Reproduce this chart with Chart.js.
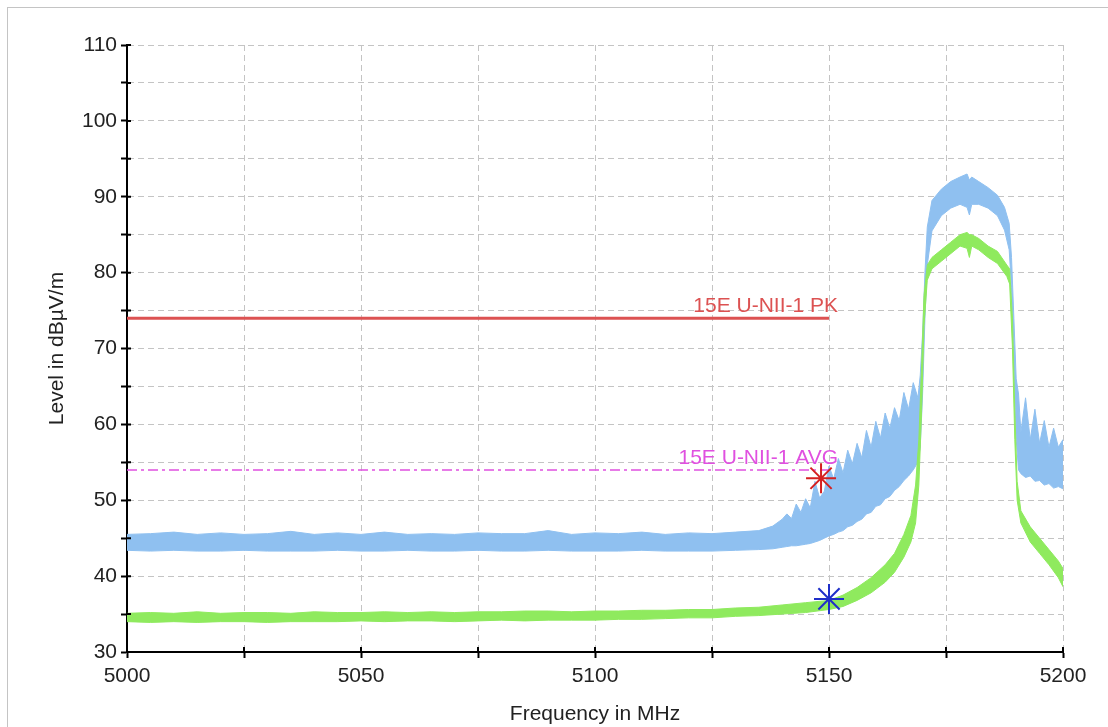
<!DOCTYPE html>
<html>
<head>
<meta charset="utf-8">
<script src="https://cdn.jsdelivr.net/npm/chart.js@4.4.0/dist/chart.umd.min.js"></script>
<style>
  html, body { margin: 0; padding: 0; background: #fff; }
  #frame { position: absolute; left: 7px; top: 7px; width: 1120px; height: 740px; border-left: 1px solid #c4c4c4; border-top: 1px solid #c4c4c4; }
  #myChart { position: absolute; left: 0; top: 0; }
</style>
</head>
<body>
<div id="frame"></div>
<canvas id="myChart" width="1108" height="727"></canvas>
<script>
// tick labels
const xLabels = [5000, 5050, 5100, 5150, 5200];
const yLabels = [30, 40, 50, 60, 70, 80, 90, 100, 110];

// peak trace (blue) - band, upper and lower edge
const pkFreq = [5000, 5005, 5010, 5015, 5020, 5025, 5030, 5035, 5040, 5045,
                5050, 5055, 5060, 5065, 5070, 5075, 5080, 5085, 5090, 5095,
                5100, 5105, 5110, 5115, 5120, 5125, 5130, 5135, 5138,
                5140, 5141, 5142, 5143, 5144, 5145, 5146, 5147, 5148, 5149,
                5150, 5151, 5152, 5153, 5154, 5155, 5156, 5157, 5158, 5159,
                5160, 5161, 5162, 5163, 5164, 5165, 5166, 5167, 5168, 5169,
                5169.5, 5170, 5170.5, 5171, 5172, 5174, 5176, 5178,
                5179.5, 5180, 5180.5, 5182, 5184, 5186,
                5187.5, 5188.5, 5189, 5189.5, 5190,
                5190.5, 5191, 5192, 5193, 5194, 5195, 5196, 5197, 5198, 5199, 5200];
const pkHigh = [45.5, 45.6, 45.8, 45.5, 45.7, 45.5, 45.6, 45.9, 45.5, 45.7,
                45.5, 45.8, 45.5, 45.6, 45.5, 45.7, 45.6, 45.6, 46.0, 45.5,
                45.7, 45.6, 45.8, 45.5, 45.7, 45.6, 45.8, 46.0, 46.6,
                47.5, 48.2, 47.6, 49.5, 48.4, 50.2, 49.0, 52.5, 50.3, 51.2,
                54.5, 52.8, 55.5, 53.6, 56.6, 54.8, 57.5, 55.6, 59.2, 57.0,
                60.4, 58.2, 61.5, 59.5, 62.2, 60.5, 64.2, 62.0, 65.5, 63.5,
                66.5, 72, 80, 86, 89.5, 91, 92, 92.6,
                93, 92.2, 92.6, 92, 91.2, 90.2,
                88.6, 86.5, 82, 74, 66,
                64, 59, 63.5, 58, 62, 57.5, 60.5, 57, 59.5, 57, 58];
const pkLow  = [43.4, 43.3, 43.4, 43.3, 43.3, 43.4, 43.3, 43.3, 43.3, 43.4,
                43.3, 43.3, 43.4, 43.3, 43.3, 43.4, 43.3, 43.3, 43.4, 43.3,
                43.3, 43.3, 43.4, 43.3, 43.3, 43.3, 43.4, 43.5, 43.6,
                43.8, 43.9, 44.0, 44.0, 44.1, 44.2, 44.3, 44.5, 44.7, 45.0,
                45.3, 45.5, 45.8, 46.0, 46.5, 46.7, 47.2, 47.5, 48.2, 48.4,
                49.2, 49.4, 50.2, 50.5, 51.3, 51.8, 52.6, 53.2, 54.0, 55.0,
                57, 64, 74, 81, 85.5, 87.5, 88.5, 89,
                88.6, 87.6, 89, 89, 88.5, 87.5,
                85.6, 83, 78, 68, 58,
                54, 53.5, 53, 53.2, 52.5, 52.6, 52, 52.2, 51.6, 51.8, 51.5];

// average trace (green)
const avFreq = [5000, 5005, 5010, 5015, 5020, 5025, 5030, 5035, 5040, 5045,
                5050, 5055, 5060, 5065, 5070, 5075, 5080, 5085, 5090, 5095,
                5100, 5105, 5110, 5115, 5120, 5125, 5130, 5135, 5140, 5145,
                5150, 5153, 5156, 5159, 5162, 5164, 5166, 5167.5, 5168.5, 5169.2,
                5169.8, 5170.3, 5171, 5172, 5174, 5176, 5178, 5179.5, 5180, 5180.5,
                5182, 5184, 5186, 5188, 5188.6, 5189.2, 5189.7, 5190.2, 5191, 5193,
                5195, 5197, 5199, 5200];
const avHigh = [35.1, 35.2, 35.1, 35.3, 35.1, 35.2, 35.2, 35.1, 35.3, 35.2,
                35.2, 35.3, 35.2, 35.3, 35.2, 35.3, 35.3, 35.4, 35.4, 35.3,
                35.4, 35.4, 35.5, 35.5, 35.6, 35.6, 35.8, 35.9, 36.2, 36.5,
                36.8, 37.5, 38.5, 39.8, 41.5, 43, 45.5, 48, 52, 58,
                68, 77, 81, 82, 83, 84, 85, 85.3, 85, 85,
                84.5, 83.5, 82.8, 81, 80.5, 74, 62, 52.5, 48.6, 46.5,
                45, 43.5, 42, 41];
const avLow  = [34.0, 33.9, 34.0, 33.9, 34.0, 34.0, 33.9, 34.0, 34.0, 34.0,
                34.1, 34.0, 34.1, 34.1, 34.0, 34.1, 34.2, 34.1, 34.2, 34.2,
                34.2, 34.3, 34.3, 34.4, 34.5, 34.5, 34.7, 34.8, 35.0, 35.2,
                35.6, 36.0, 36.8, 37.8, 39.2, 40.5, 42.5, 44.5, 47, 52,
                62, 73, 79, 80.5, 81.5, 82.5, 83.5, 83.2, 82, 83.5,
                83, 82, 81.2, 79.5, 78.5, 70, 58, 50, 47, 44.5,
                43, 41.5, 39.8, 38.6];

// limit lines
const limitNames = ['15E U-NII-1 PK', '15E U-NII-1 AVG'];
const limitLevels = [74, 54];
const limitFreq = [5000, 5150];

// markers
const markerFreq = [5148.3, 5150.0];
const markerLevel = [52.9, 37.0];

const fontFamily = '"Liberation Sans", Arial, sans-serif';
const blue = '#8fc0f0';
const green = '#8fea5e';
const limitColors = ['#dc5252', '#e050e0'];

function pts(xs, ys) {
    return xs.map((x, i) => ({ x: x, y: ys[i] }));
}

// small inner part of the tick marks (they cross the axis line)
const innerTicks = {
    id: 'innerTicks',
    afterDatasetsDraw(chart) {
        const { ctx, chartArea, scales: { x, y } } = chart;
        ctx.save();
        ctx.strokeStyle = '#000';
        ctx.lineWidth = 2;
        ctx.beginPath();
        x.ticks.forEach(t => {
            const px = x.getPixelForValue(t.value);
            ctx.moveTo(px, chartArea.bottom);
            ctx.lineTo(px, chartArea.bottom - 5);
        });
        y.ticks.forEach(t => {
            const py = y.getPixelForValue(t.value);
            ctx.moveTo(chartArea.left, py);
            ctx.lineTo(chartArea.left + 4, py);
        });
        ctx.stroke();
        ctx.restore();
    }
};

const limitText = {
    id: 'limitText',
    afterDatasetsDraw(chart) {
        const { ctx, scales: { x, y } } = chart;
        ctx.save();
        ctx.font = '21px ' + fontFamily;
        ctx.textAlign = 'right';
        ctx.textBaseline = 'alphabetic';
        limitNames.forEach((name, i) => {
            ctx.fillStyle = limitColors[i];
            ctx.fillText(name, x.getPixelForValue(limitFreq[1]) + 9, y.getPixelForValue(limitLevels[i]) - 6);
        });
        ctx.restore();
    }
};

const ctx = document.getElementById('myChart').getContext('2d');
const myChart = new Chart(ctx, {
    type: 'line',
    data: {
        datasets: [
            {   // markers
                data: pts(markerFreq, markerLevel),
                showLine: false,
                pointStyle: 'star',
                pointRadius: 15,
                pointBorderWidth: 2,
                pointBorderColor: ['#d42020', '#1f2fc8'],
                order: 0
            },
            {
                data: pts(limitFreq, [limitLevels[0], limitLevels[0]]),
                borderColor: limitColors[0],
                borderWidth: 3,
                order: 1
            },
            {
                data: pts(limitFreq, [limitLevels[1], limitLevels[1]]),
                borderColor: limitColors[1],
                borderWidth: 1.5,
                borderDash: [10, 4, 3, 4],
                order: 1
            },
            {
                data: pts(avFreq, avHigh),
                borderColor: green,
                backgroundColor: green,
                borderWidth: 1,
                fill: '+1',
                order: 2
            },
            {
                data: pts(avFreq, avLow),
                borderColor: green,
                borderWidth: 1,
                order: 2
            },
            {
                data: pts(pkFreq, pkHigh),
                borderColor: blue,
                backgroundColor: blue,
                borderWidth: 1,
                fill: '+1',
                order: 3
            },
            {
                data: pts(pkFreq, pkLow),
                borderColor: blue,
                borderWidth: 1,
                order: 3
            }
        ]
    },
    options: {
        responsive: false,
        animation: false,
        layout: { padding: { top: 45, right: 45, left: 0, bottom: 0 } },
        elements: { point: { radius: 0 }, line: { tension: 0 } },
        plugins: { legend: { display: false }, tooltip: { enabled: false } },
        scales: {
            x: {
                type: 'linear',
                min: 5000,
                max: 5200,
                afterFit: function(scale) { scale.height = 75; },
                ticks: {
                    stepSize: 25,
                    autoSkip: false,
                    maxRotation: 0,
                    padding: 6,
                    color: '#222',
                    font: { family: fontFamily, size: 21 },
                    callback: function(value) {
                        return xLabels.includes(value) ? String(value) : '';
                    }
                },
                grid: { color: '#c4c4c4', tickColor: '#000', tickLength: 6, tickWidth: 2 },
                border: { color: '#000', width: 2, dash: [6, 4] },
                title: {
                    display: true,
                    text: 'Frequency in MHz',
                    color: '#222',
                    font: { family: fontFamily, size: 21 },
                    padding: { top: 0, bottom: 0 }
                }
            },
            y: {
                min: 30,
                max: 110,
                afterFit: function(scale) { scale.width = 127; },
                ticks: {
                    stepSize: 5,
                    autoSkip: false,
                    padding: 4,
                    color: '#222',
                    font: { family: fontFamily, size: 21 },
                    callback: function(value) {
                        return yLabels.includes(value) ? String(value) : '';
                    }
                },
                grid: { color: '#c4c4c4', tickColor: '#000', tickLength: 6, tickWidth: 2 },
                border: { color: '#000', width: 2, dash: [6, 4] },
                title: {
                    display: true,
                    text: 'Level in dBµV/m',
                    color: '#222',
                    font: { family: fontFamily, size: 21 },
                    padding: { top: 45, bottom: 0 }
                }
            }
        }
    },
    plugins: [innerTicks, limitText]
});
</script>
</body>
</html>
